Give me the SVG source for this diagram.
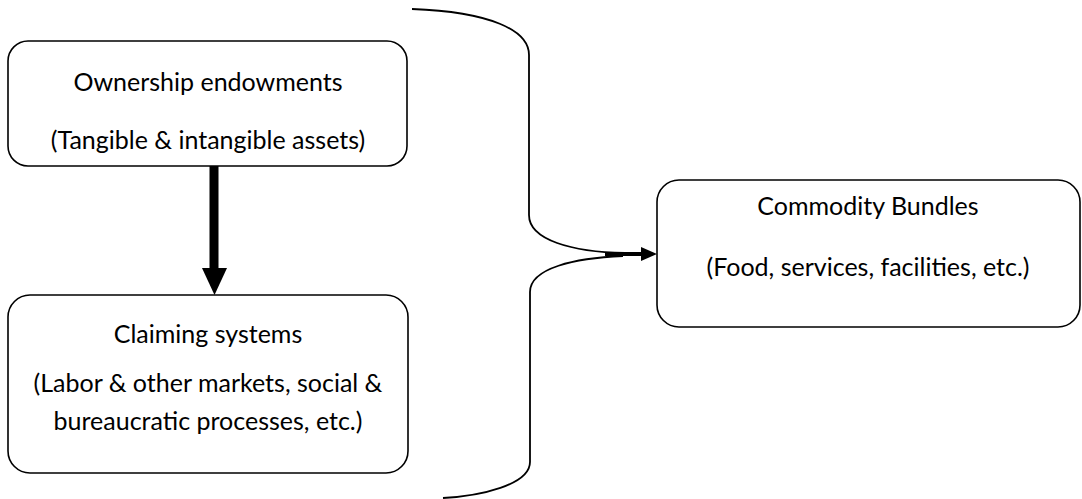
<svg xmlns="http://www.w3.org/2000/svg" width="1082" height="499" viewBox="0 0 1082 499">
<style>
.box{fill:#fff;stroke:#000;stroke-width:1.6}
.t{font-family:Lato,"Open Sans","Liberation Sans",sans-serif;font-size:25px;fill:#000;text-anchor:middle}
.con{fill:none;stroke:#000;stroke-width:1.8}
.head{fill:#000}
</style>
<rect width="1082" height="499" fill="#fff"/>
<g id="node-ownership">
<rect class="box" x="8" y="41" width="399" height="125" rx="20"/>
<text class="t" x="208" y="91">Ownership endowments</text>
<text class="t" x="208" y="149">(Tangible &amp; intangible assets)</text>
</g>
<g id="node-claiming">
<rect class="box" x="8" y="295" width="400" height="178" rx="22"/>
<text class="t" x="208" y="343">Claiming systems</text>
<text class="t" x="208" y="392">(Labor &amp; other markets, social &amp;</text>
<text class="t" x="208" y="430">bureaucratic processes, etc.)</text>
</g>
<g id="node-commodity">
<rect class="box" x="657" y="180" width="423" height="147" rx="22"/>
<text class="t" x="868" y="215">Commodity Bundles</text>
<text class="t" x="868" y="276">(Food, services, facilities, etc.)</text>
</g>
<g id="connectors">
<path d="M214,166 L214,268" stroke="#000" stroke-width="9" fill="none"/>
<path class="head" d="M202,268 L227,268 L214.5,295 Z"/>
<path class="con" d="M412,9 C490,12 529,30 529,55 L529,215 C529,240 572,252 625,253"/>
<path class="con" d="M623,256 C575,258 530,268 530,292 L530,462 C530,485 480,496 443,498"/>
<path d="M605,254 L644,254" stroke="#000" stroke-width="4" fill="none"/>
<path class="head" d="M641,247 L657,254 L641,261 Z"/>
</g>
</svg>
